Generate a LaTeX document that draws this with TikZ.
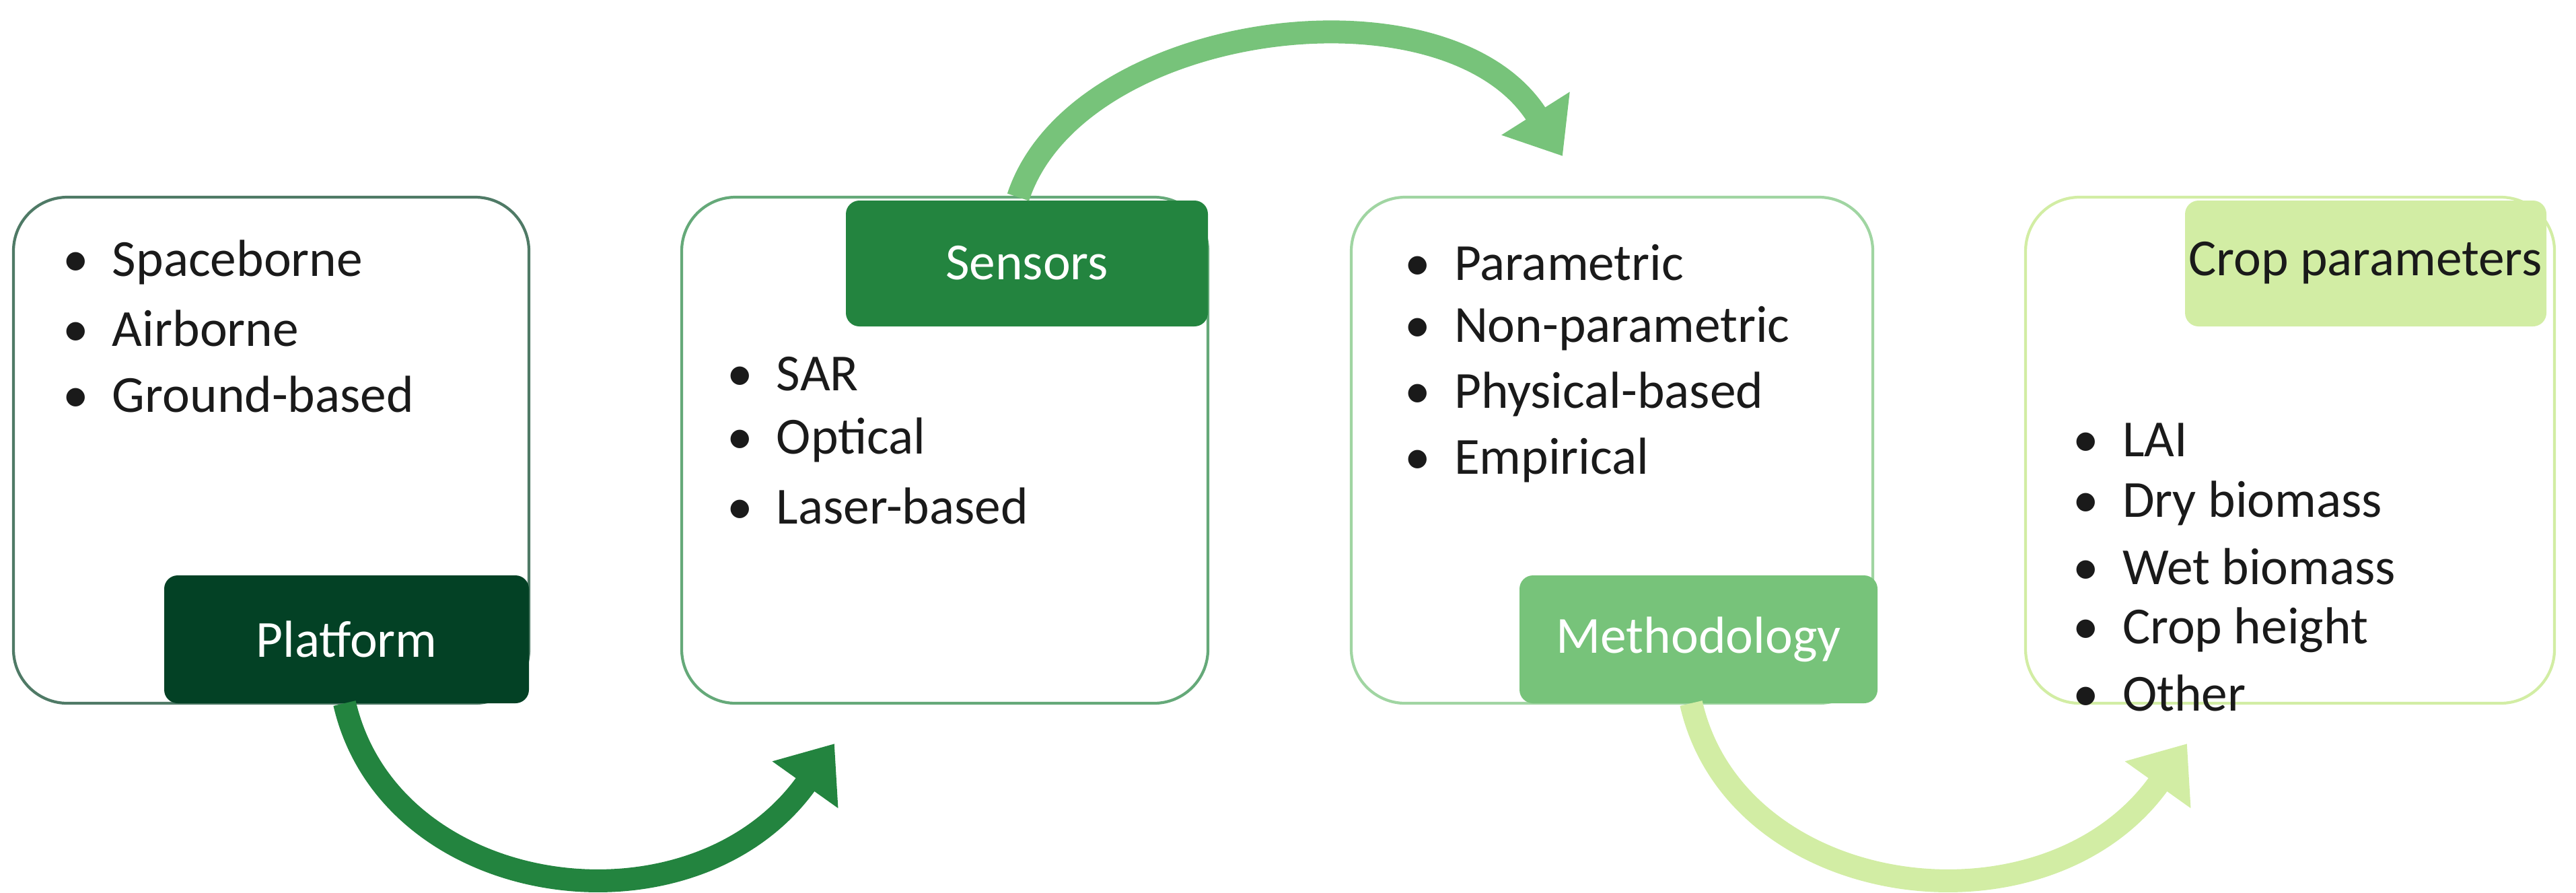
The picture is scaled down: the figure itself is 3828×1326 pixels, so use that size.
\documentclass[tikz,border=0pt]{standalone}
\usepackage{fontspec}
\setmainfont{Carlito}
\usetikzlibrary{arrows.meta}
\definecolor{cA}{HTML}{034125}
\definecolor{cB}{HTML}{23843F}
\definecolor{cC}{HTML}{77C37A}
\definecolor{cD}{HTML}{D2EDA4}
\definecolor{txt}{HTML}{1A1A1A}
\begin{document}
\begin{tikzpicture}[x=0.01cm,y=-0.01cm,
  box/.style={draw, line width=1.2pt, rounded corners=0.8cm},
  lab/.style={rounded corners=0.2cm, inner sep=0pt, font=\fontsize{22}{26}\selectfont},
  item/.style={anchor=west, text=txt, inner sep=0pt, font=\fontsize{22}{26}\selectfont},
  arr/.style={line width=0.34cm, -{Triangle[length=0.75cm,width=1.15cm]}}]
\useasboundingbox (0,0) rectangle (3828,1326);
% boxes
\draw[box, color=cA!70] (20,293) rectangle (786,1045);
\draw[box, color=cB!70] (1013,293) rectangle (1795,1045);
\draw[box, color=cC!70] (2008,293) rectangle (2783,1045);
\draw[box, color=cD] (3010,293) rectangle (3796,1045);
% labels
\fill[cA, rounded corners=0.2cm] (244,855) rectangle (786,1045);
\node[text=white, font=\fontsize{22}{26}\selectfont] (pl) at (515,950) {Platform};
\fill[cB, rounded corners=0.2cm] (1257,298) rectangle (1795,485);
\node[text=white, font=\fontsize{22}{26}\selectfont] (se) at (1526,391) {Sensors};
\fill[cC, rounded corners=0.2cm] (2258,855) rectangle (2790,1045);
\node[text=white, font=\fontsize{22}{26}\selectfont] (me) at (2524,950) {Methodology};
\fill[cD, rounded corners=0.2cm] (3247,298) rectangle (3784,485);
\node[text=txt, font=\fontsize{22}{26}\selectfont] (cp) at (3515,391) {Crop parameters};
% items
\foreach \t [count=\i] in {Spaceborne,Airborne,Ground-based}
  \node[item] (a\i) at (93,{390+98*(\i-1)}) {•\hspace{0.45em}\t};
\foreach \t [count=\i] in {SAR,Optical,Laser-based}
  \node[item] (b\i) at (1080,{556+98*(\i-1)}) {•\hspace{0.45em}\t};
\foreach \t [count=\i] in {Parametric,Non-parametric,Physical-based,Empirical}
  \node[item] (c\i) at (2087,{390+98*(\i-1)}) {•\hspace{0.45em}\t};
\foreach \t [count=\i] in {LAI,Dry biomass,Wet biomass,Crop height,Other}
  \node[item] (d\i) at (3080,{654+94*(\i-1)}) {•\hspace{0.45em}\t};
% arrows
\coordinate (s1) at (512,1045);
\coordinate (e1) at (1240,1105);
\coordinate (s2) at (1513,293);
\coordinate (e2) at (2322,232);
\coordinate (s3) at (2513,1045);
\coordinate (e3) at (3250,1105);
\draw[arr, cB] (s1) .. controls (580,1340) and (1030,1400) .. (e1);
\draw[arr, cC] (s2) .. controls (1600,30) and (2150,-40) .. (e2);
\draw[arr, cD] (s3) .. controls (2580,1340) and (3040,1400) .. (e3);
\end{tikzpicture}
\end{document}
